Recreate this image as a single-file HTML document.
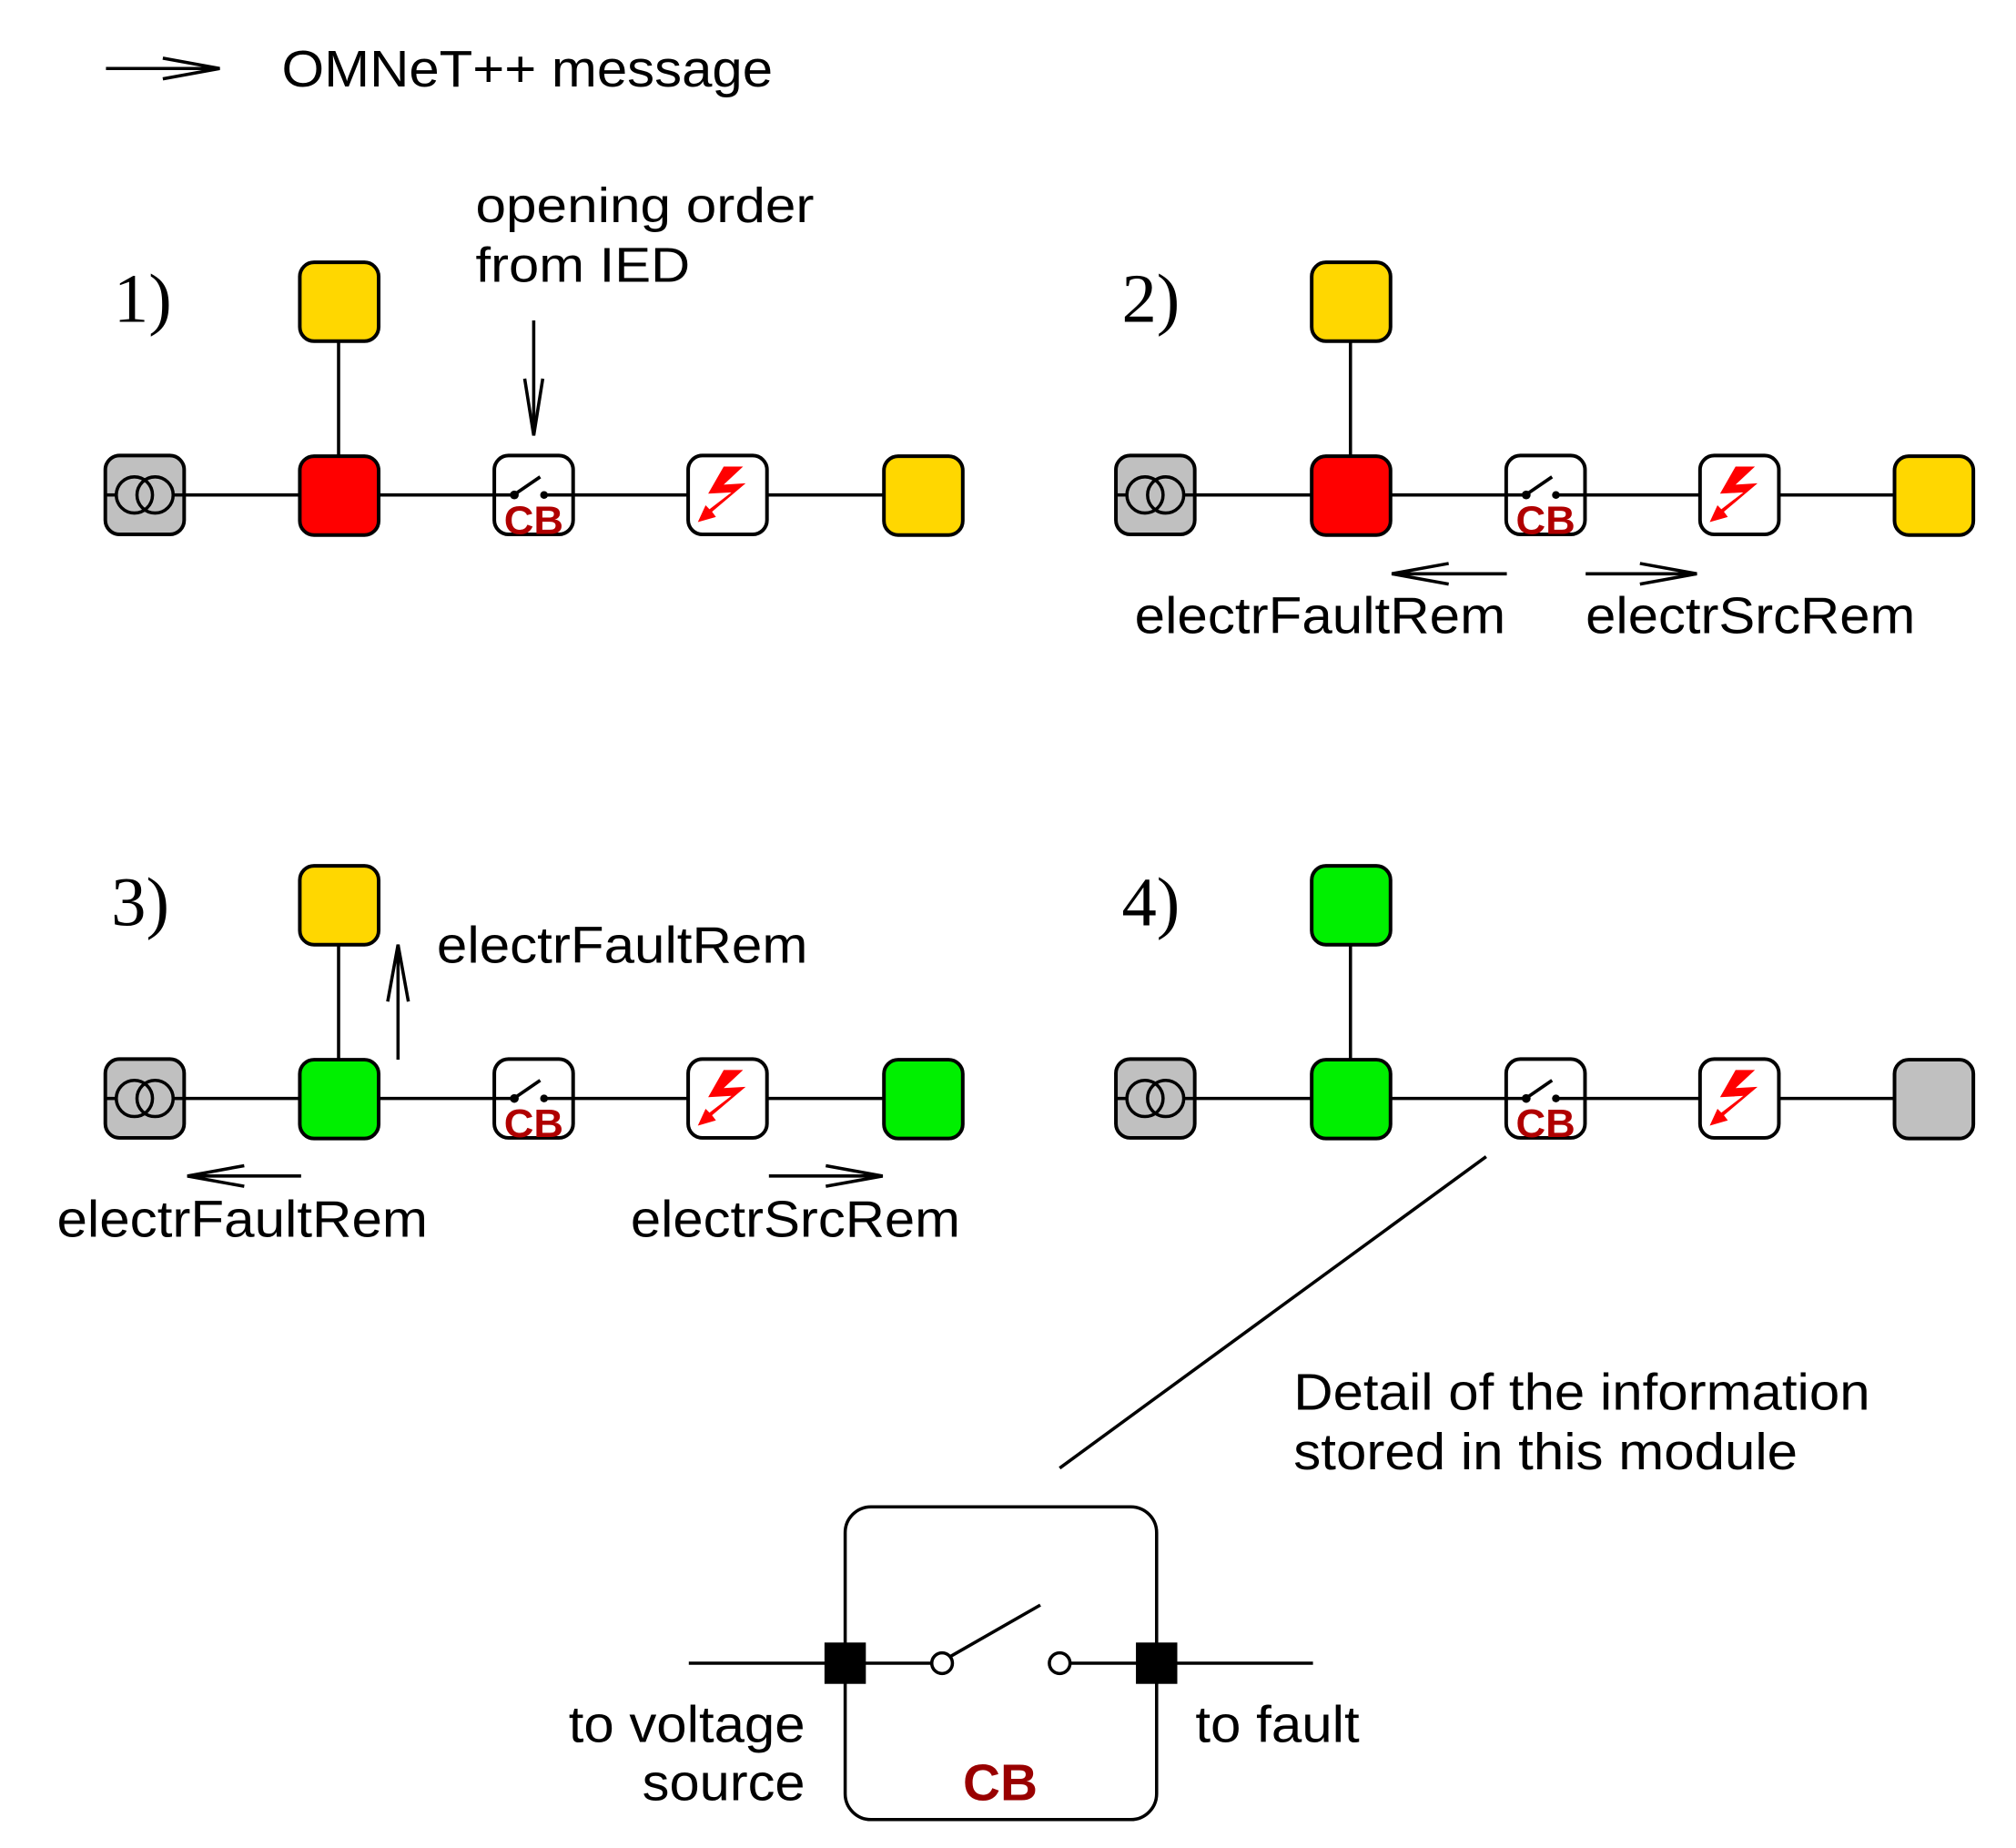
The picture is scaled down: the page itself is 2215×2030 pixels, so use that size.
<!DOCTYPE html>
<html><head><meta charset="utf-8">
<style>
html,body{margin:0;padding:0;background:#fff;}
svg{display:block;}
text{font-family:"Liberation Sans",sans-serif;}
</style></head>
<body>
<svg width="2215" height="2030" viewBox="0 0 1560 1430" preserveAspectRatio="none" xmlns="http://www.w3.org/2000/svg">
<defs>
  <g id="trafo">
    <rect x="-30.5" y="-30.5" width="61" height="61" rx="11" fill="#c0c0c0" stroke="#000" stroke-width="2.8"/>
    <circle cx="-8" cy="0" r="14" fill="none" stroke="#000" stroke-width="2.5"/>
    <circle cx="8" cy="0" r="14" fill="none" stroke="#000" stroke-width="2.5"/>
    <line x1="-30" y1="0" x2="-22" y2="0" stroke="#000" stroke-width="2.5"/>
    <line x1="22" y1="0" x2="30" y2="0" stroke="#000" stroke-width="2.5"/>
  </g>
  <g id="cbbox">
    <rect x="-30.5" y="-30.5" width="61" height="61" rx="11" fill="#fff" stroke="#000" stroke-width="2.8"/>
    <line x1="8" y1="0" x2="30" y2="0" stroke="#000" stroke-width="2.5"/>
    <line x1="-15" y1="0" x2="-30" y2="0" stroke="#000" stroke-width="2.5"/>
    <circle cx="-15" cy="0" r="3.4" fill="#000"/>
    <circle cx="8" cy="0" r="3" fill="#000"/>
    <line x1="-14" y1="-1" x2="5" y2="-14" stroke="#000" stroke-width="2.6"/>
  </g>
  <g id="fault">
    <rect x="-30.5" y="-30.5" width="61" height="61" rx="11" fill="#fff" stroke="#000" stroke-width="2.8"/>
    <polygon points="-3,-22 12,-22 -3,-8 14,-9 -12,13 -9,17 -23,21 -17,8 -14,11 3,-2 -15,-1" fill="#f00"/>
  </g>
</defs>

<!-- legend -->
<line x1="82" y1="53" x2="170" y2="53" stroke="#000" stroke-width="2.5"/>
<polyline points="126,45 170,53 126,61" fill="none" stroke="#000" stroke-width="2.5"/>
<text x="218" y="67" font-size="40" textLength="380" lengthAdjust="spacingAndGlyphs">OMNeT++ message</text>

<!-- Panel 1 -->
<text x="88" y="249" font-size="54" style="font-family:'Liberation Serif',serif">1)</text>
<text x="368" y="172" font-size="38" textLength="262" lengthAdjust="spacingAndGlyphs">opening order</text>
<text x="368" y="218" font-size="38" textLength="166" lengthAdjust="spacingAndGlyphs">from IED</text>
<line x1="413" y1="248" x2="413" y2="336" stroke="#000" stroke-width="2.5"/>
<polyline points="406,293 413,337 420,293" fill="none" stroke="#000" stroke-width="2.5"/>
<line x1="262" y1="264" x2="262" y2="353" stroke="#000" stroke-width="2.5"/>
<line x1="143" y1="383" x2="684" y2="383" stroke="#000" stroke-width="2.5"/>
<rect x="232" y="203" width="61" height="61" rx="11" fill="#ffd700" stroke="#000" stroke-width="2.8"/>
<use href="#trafo" x="112" y="383"/>
<rect x="232" y="353" width="61" height="61" rx="11" fill="#f00" stroke="#000" stroke-width="2.8"/>
<use href="#cbbox" x="413" y="383"/>
<text x="413" y="413" font-size="31" font-weight="bold" fill="#b00000" text-anchor="middle" textLength="46" lengthAdjust="spacingAndGlyphs">CB</text>
<use href="#fault" x="563" y="383"/>
<rect x="684" y="353" width="61" height="61" rx="11" fill="#ffd700" stroke="#000" stroke-width="2.8"/>

<!-- Panel 2 -->
<text x="868" y="249" font-size="54" style="font-family:'Liberation Serif',serif">2)</text>
<line x1="1045" y1="264" x2="1045" y2="353" stroke="#000" stroke-width="2.5"/>
<line x1="925" y1="383" x2="1466" y2="383" stroke="#000" stroke-width="2.5"/>
<rect x="1015" y="203" width="61" height="61" rx="11" fill="#ffd700" stroke="#000" stroke-width="2.8"/>
<use href="#trafo" x="894" y="383"/>
<rect x="1015" y="353" width="61" height="61" rx="11" fill="#f00" stroke="#000" stroke-width="2.8"/>
<use href="#cbbox" x="1196" y="383"/>
<text x="1196" y="413" font-size="31" font-weight="bold" fill="#b00000" text-anchor="middle" textLength="46" lengthAdjust="spacingAndGlyphs">CB</text>
<use href="#fault" x="1346" y="383"/>
<rect x="1466" y="353" width="61" height="61" rx="11" fill="#ffd700" stroke="#000" stroke-width="2.8"/>
<line x1="1077" y1="444" x2="1166" y2="444" stroke="#000" stroke-width="2.5"/>
<polyline points="1121,436 1077,444 1121,452" fill="none" stroke="#000" stroke-width="2.5"/>
<line x1="1227" y1="444" x2="1313" y2="444" stroke="#000" stroke-width="2.5"/>
<polyline points="1269,436 1313,444 1269,452" fill="none" stroke="#000" stroke-width="2.5"/>
<text x="878" y="490" font-size="40" textLength="287" lengthAdjust="spacingAndGlyphs">electrFaultRem</text>
<text x="1227" y="490" font-size="40" textLength="255" lengthAdjust="spacingAndGlyphs">electrSrcRem</text>

<!-- Panel 3 -->
<text x="86" y="716" font-size="54" style="font-family:'Liberation Serif',serif">3)</text>
<line x1="262" y1="731" x2="262" y2="820" stroke="#000" stroke-width="2.5"/>
<line x1="143" y1="850" x2="684" y2="850" stroke="#000" stroke-width="2.5"/>
<rect x="232" y="670" width="61" height="61" rx="11" fill="#ffd700" stroke="#000" stroke-width="2.8"/>
<use href="#trafo" x="112" y="850"/>
<rect x="232" y="820" width="61" height="61" rx="11" fill="#00f000" stroke="#000" stroke-width="2.8"/>
<use href="#cbbox" x="413" y="850"/>
<text x="413" y="880" font-size="31" font-weight="bold" fill="#b00000" text-anchor="middle" textLength="46" lengthAdjust="spacingAndGlyphs">CB</text>
<use href="#fault" x="563" y="850"/>
<rect x="684" y="820" width="61" height="61" rx="11" fill="#00f000" stroke="#000" stroke-width="2.8"/>
<line x1="308" y1="820" x2="308" y2="731" stroke="#000" stroke-width="2.5"/>
<polyline points="300,775 308,731 316,775" fill="none" stroke="#000" stroke-width="2.5"/>
<text x="338" y="745" font-size="40" textLength="287" lengthAdjust="spacingAndGlyphs">electrFaultRem</text>
<line x1="145" y1="910" x2="233" y2="910" stroke="#000" stroke-width="2.5"/>
<polyline points="189,902 145,910 189,918" fill="none" stroke="#000" stroke-width="2.5"/>
<line x1="595" y1="910" x2="683" y2="910" stroke="#000" stroke-width="2.5"/>
<polyline points="639,902 683,910 639,918" fill="none" stroke="#000" stroke-width="2.5"/>
<text x="44" y="957" font-size="40" textLength="287" lengthAdjust="spacingAndGlyphs">electrFaultRem</text>
<text x="488" y="957" font-size="40" textLength="255" lengthAdjust="spacingAndGlyphs">electrSrcRem</text>

<!-- Panel 4 -->
<text x="868" y="716" font-size="54" style="font-family:'Liberation Serif',serif">4)</text>
<line x1="1045" y1="731" x2="1045" y2="820" stroke="#000" stroke-width="2.5"/>
<line x1="925" y1="850" x2="1466" y2="850" stroke="#000" stroke-width="2.5"/>
<rect x="1015" y="670" width="61" height="61" rx="11" fill="#00f000" stroke="#000" stroke-width="2.8"/>
<use href="#trafo" x="894" y="850"/>
<rect x="1015" y="820" width="61" height="61" rx="11" fill="#00f000" stroke="#000" stroke-width="2.8"/>
<use href="#cbbox" x="1196" y="850"/>
<text x="1196" y="880" font-size="31" font-weight="bold" fill="#b00000" text-anchor="middle" textLength="46" lengthAdjust="spacingAndGlyphs">CB</text>
<use href="#fault" x="1346" y="850"/>
<rect x="1466" y="820" width="61" height="61" rx="11" fill="#c0c0c0" stroke="#000" stroke-width="2.8"/>

<!-- Detail -->
<line x1="1150" y1="895" x2="820" y2="1136" stroke="#000" stroke-width="2.5"/>
<text x="1001" y="1091" font-size="40" textLength="446" lengthAdjust="spacingAndGlyphs">Detail of the information</text>
<text x="1001" y="1137" font-size="40" textLength="390" lengthAdjust="spacingAndGlyphs">stored in this module</text>
<rect x="654" y="1166" width="241" height="242" rx="20" fill="#fff" stroke="#000" stroke-width="2.5"/>
<line x1="533" y1="1287" x2="721" y2="1287" stroke="#000" stroke-width="2.5"/>
<line x1="828" y1="1287" x2="1016" y2="1287" stroke="#000" stroke-width="2.5"/>
<rect x="638" y="1271" width="32" height="32" fill="#000"/>
<rect x="879" y="1271" width="32" height="32" fill="#000"/>
<circle cx="729" cy="1287" r="8" fill="#fff" stroke="#000" stroke-width="2.5"/>
<circle cx="820" cy="1287" r="8" fill="#fff" stroke="#000" stroke-width="2.5"/>
<line x1="735" y1="1282" x2="805" y2="1242" stroke="#000" stroke-width="2.5"/>
<text x="774" y="1393" font-size="40" font-weight="bold" fill="#990000" text-anchor="middle">CB</text>
<text x="623" y="1348" font-size="40" text-anchor="end" textLength="183" lengthAdjust="spacingAndGlyphs">to voltage</text>
<text x="623" y="1393" font-size="40" text-anchor="end" textLength="126" lengthAdjust="spacingAndGlyphs">source</text>
<text x="925" y="1348" font-size="40" textLength="127" lengthAdjust="spacingAndGlyphs">to fault</text>
</svg>
</body></html>
